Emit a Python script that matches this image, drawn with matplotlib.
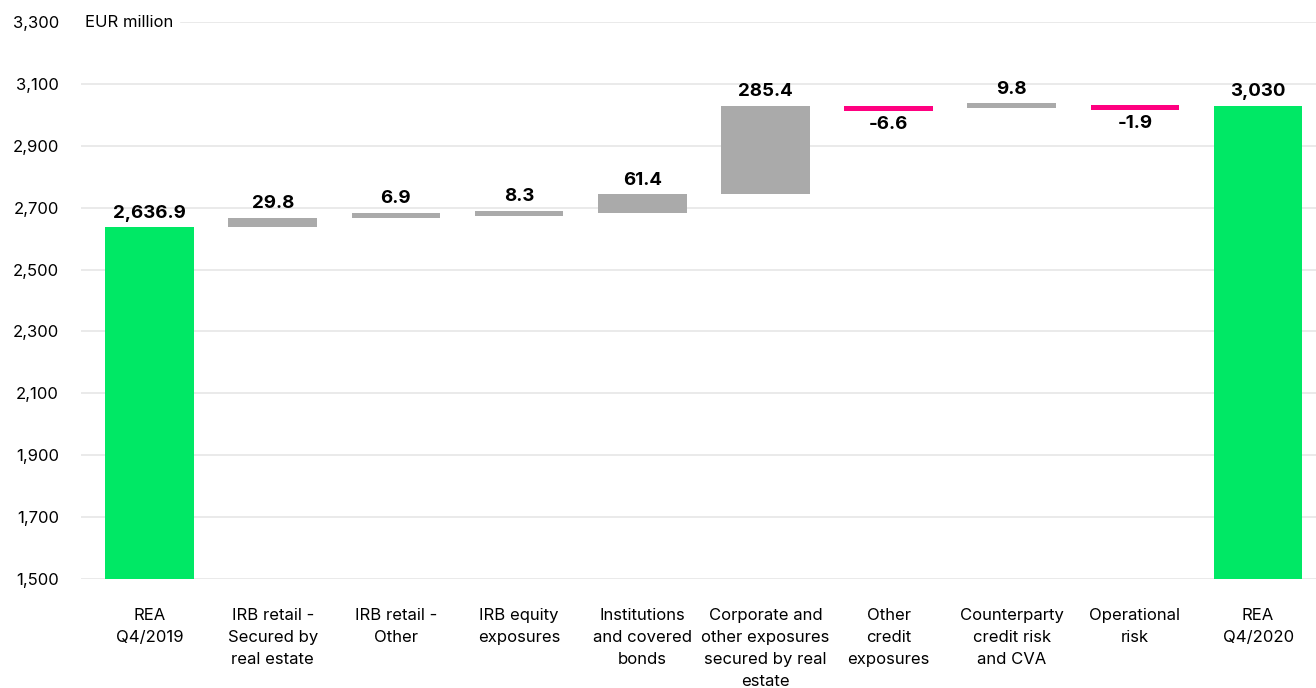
import matplotlib
matplotlib.use("Agg")
import matplotlib.pyplot as plt
from matplotlib.ticker import FuncFormatter

# REA bridge, EUR million
categories = [
    "REA\nQ4/2019",
    "IRB retail -\nSecured by\nreal estate",
    "IRB retail -\nOther",
    "IRB equity\nexposures",
    "Institutions\nand covered\nbonds",
    "Corporate and\nother exposures\nsecured by real\nestate",
    "Other\ncredit\nexposures",
    "Counterparty\ncredit risk\nand CVA",
    "Operational\nrisk",
    "REA\nQ4/2020",
]
start_total = 2636.9
changes = [29.8, 6.9, 8.3, 61.4, 285.4, -6.6, 9.8, -1.9]
end_total = 3030.0
y_ticks = [1500, 1700, 1900, 2100, 2300, 2500, 2700, 2900, 3100, 3300]

GREEN = "#00e865"
GREY = "#aaaaaa"
PINK = "#ff0080"
MIN_H = 16  # smallest drawn step so tiny deltas stay visible

plt.rcParams["font.family"] = ["Inter", "DejaVu Sans"]

fig = plt.figure(figsize=(13.16, 6.88), dpi=100)
ax = fig.add_axes([0.0616, 0.1584, 0.9384, 0.8096])

bottom = y_ticks[0]
width = 0.72
x = list(range(len(categories)))

def label(xi, y, text, va):
    off = 4 if va == "bottom" else -4
    ax.annotate(text, (xi, y), xytext=(0, off), textcoords="offset points",
                ha="center", va=va, fontsize=13.5, fontweight="bold", color="black")

# totals
ax.bar(x[0], start_total - bottom, width, bottom=bottom, color=GREEN, zorder=3)
label(x[0], start_total, f"{start_total:,.1f}", "bottom")
ax.bar(x[-1], end_total - bottom, width, bottom=bottom, color=GREEN, zorder=3)
label(x[-1], end_total, f"{end_total:,.0f}", "bottom")

# steps
level = start_total
for i, v in enumerate(changes, start=1):
    h = max(abs(v), MIN_H)
    if v >= 0:
        ax.bar(i, h, width, bottom=level, color=GREY, zorder=3)
        label(i, level + h, f"{v:.1f}", "bottom")
    else:
        ax.bar(i, -h, width, bottom=level, color=PINK, zorder=3)
        label(i, level - h, f"{v:.1f}", "top")
    level += v

ax.set_xlim(-0.556, 9.47)
ax.set_ylim(bottom, y_ticks[-1])
ax.set_yticks(y_ticks)
ax.yaxis.set_major_formatter(FuncFormatter(lambda v, p: f"{v:,.0f}"))
ax.set_xticks(x)
ax.set_xticklabels(categories, fontsize=12, linespacing=1.58, va="top")
ax.tick_params(axis="x", length=0, pad=21)
ax.tick_params(axis="y", length=0, pad=16, labelsize=12)
for t in ax.get_yticklabels():
    t.set_horizontalalignment("right")

ax.grid(axis="y", color="#e6e6e6", linewidth=1.2, zorder=0)
for s in ax.spines.values():
    s.set_visible(False)

# unit note sits over the top gridline
ax.text(0.003, 1.0, "EUR million", transform=ax.transAxes, ha="left", va="center",
        fontsize=12, backgroundcolor="white", zorder=4)

fig.savefig("out.png", dpi=100)
